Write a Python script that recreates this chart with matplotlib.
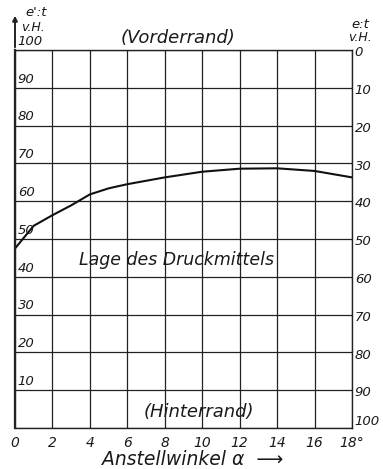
import matplotlib.pyplot as plt
import numpy as np

# Anstellwinkel in Grad und Lage des Druckmittels e':t in v.H.
winkel = [0, 1, 2, 3, 4, 5, 6, 8, 10, 12, 14, 16, 18]
lage = [47.5, 53.5, 56.3, 58.9, 61.8, 63.4, 64.5, 66.3, 67.8, 68.6, 68.7, 68.0, 66.3]

x_ticks = [0, 2, 4, 6, 8, 10, 12, 14, 16, 18]
x_labels = ["0", "2", "4", "6", "8", "10", "12", "14", "16", "18°"]
y_ticks = [0, 10, 20, 30, 40, 50, 60, 70, 80, 90, 100]

plt.rcParams["font.family"] = ["DejaVu Sans"]
font = dict(style="italic", color="#1a1a1a")

fig = plt.figure(figsize=(3.83, 4.69), dpi=100)
ax = fig.add_axes([15 / 383, 41 / 469, 337 / 383, 378 / 469])

ax.set_xlim(0, 18)
ax.set_ylim(0, 100)
for xv in x_ticks:
    ax.axvline(xv, color="#222222", lw=0.9)
for yv in y_ticks:
    ax.axhline(yv, color="#222222", lw=0.9)
for s in ax.spines.values():
    s.set_linewidth(1.0)
    s.set_color("#222222")
ax.spines["left"].set_linewidth(1.6)

ax.plot(winkel, lage, color="#111111", lw=1.5)

ax.set_xticks([])
ax.set_yticks([])

# x tick labels
for xv, lab in zip(x_ticks, x_labels):
    ax.text(xv, -2.0, lab, ha="center", va="top", fontsize=10, **font)

# left labels (inside, just above the gridlines)
for yv in y_ticks[1:]:
    ax.text(0.15, yv + 2.3, str(yv), ha="left", va="center", fontsize=9.5, **font)

# right labels e:t = 100 - e':t
for yv in y_ticks:
    off = 1.6 if yv == 0 else -0.7
    ax.text(18.15, yv + off, str(100 - yv), ha="left", va="center", fontsize=9.5, **font)

# axis heads
ax.annotate("", xy=(0, 109.8), xytext=(0, 100), annotation_clip=False,
            arrowprops=dict(arrowstyle="-|>", color="#222222", lw=1.4, mutation_scale=7))
ax.text(0.55, 109.8, "e':t", ha="left", va="center", fontsize=9.5, **font)
ax.text(0.3, 106.0, "v.H.", ha="left", va="center", fontsize=9, **font)
ax.text(18.45, 106.8, "e:t", ha="center", va="center", fontsize=9.5, **font)
ax.text(18.45, 103.2, "v.H.", ha="center", va="center", fontsize=9, **font)

ax.text(8.7, 103.2, "(Vorderrand)", ha="center", va="center", fontsize=13, **font)
ax.text(9.8, 4.2, "(Hinterrand)", ha="center", va="center", fontsize=13, **font)
ax.text(8.65, 44.4, "Lage des Druckmittels", ha="center", va="center", fontsize=12.5, **font)
ax.text(9.5, -8.3, "Anstellwinkel α  ⟶", ha="center", va="center", fontsize=13.5, **font)

fig.savefig("out.png", dpi=100)
